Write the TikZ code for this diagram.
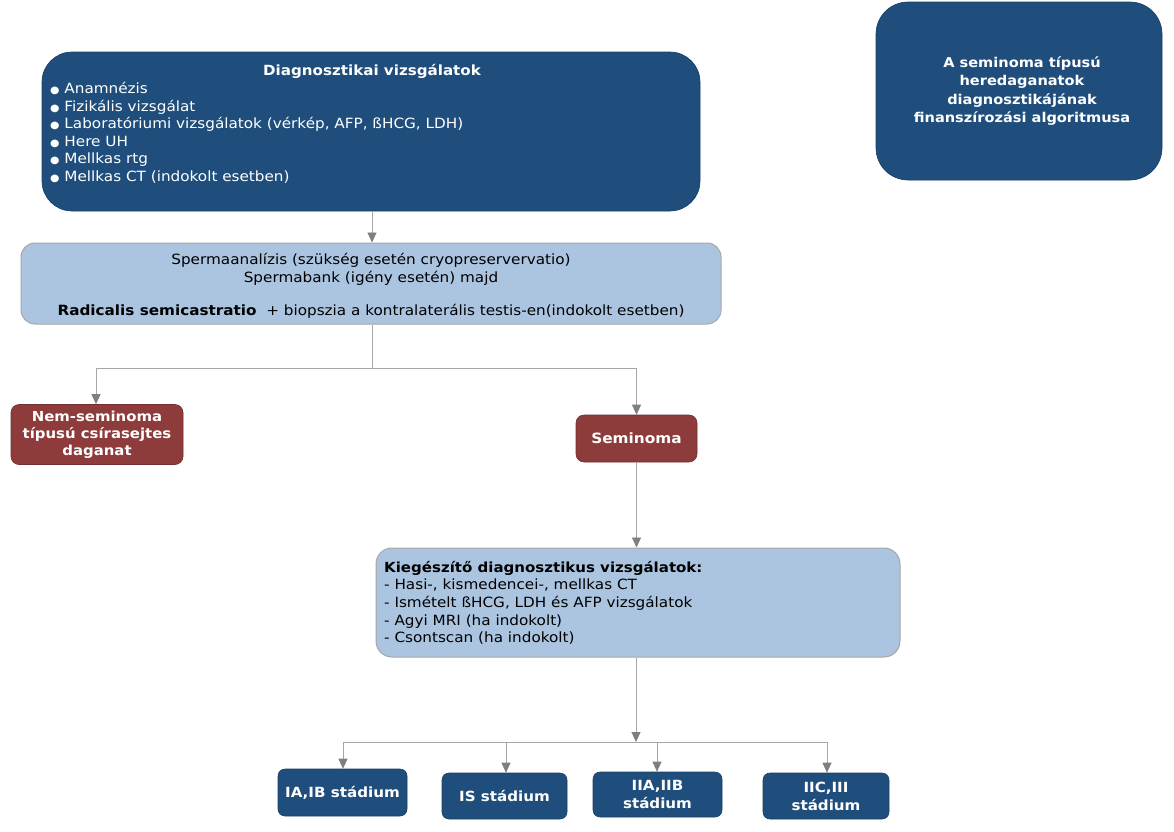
\documentclass[tikz,border=0pt]{standalone}
\usepackage{fontspec}
\setmainfont{DejaVu Sans}[FakeStretch=1.08]
\usetikzlibrary{arrows.meta}
\definecolor{dkblue}{HTML}{1F4E7D}
\definecolor{ltblue}{HTML}{ABC5E1}
\definecolor{redbr}{HTML}{8E3B3B}
\definecolor{lnc}{HTML}{A6A6A6}
\definecolor{arc}{HTML}{7F7F7F}
\tikzset{
  darkbox/.style={fill=dkblue, draw=dkblue!80!black, line width=0.6pt, text=white, font=\bfseries\fontsize{13.5}{18.2}\selectfont, align=center, inner sep=0pt},
  lightbox/.style={fill=ltblue, draw=lnc, line width=1pt, inner sep=0pt},
  redbox/.style={fill=redbr, draw=redbr!80!black, line width=0.6pt, text=white, font=\bfseries\fontsize{13.8}{17.2}\selectfont, align=center, inner sep=0pt, rounded corners=8pt},
  stagebox/.style={darkbox, rounded corners=7pt, font=\bfseries\fontsize{14}{18}\selectfont},
  conn/.style={draw=lnc, line width=0.9pt},
  arr/.style={conn, -{Triangle[length=10pt,width=9pt,fill=arc,color=arc]}},
  txt/.style={font=\fontsize{14.1}{17.6}\selectfont, inner sep=0pt},
}
\begin{document}
\begin{tikzpicture}[x=1pt,y=-1pt]
\useasboundingbox (0,0) rectangle (1174,831);
% title box
\node[darkbox, rounded corners=32pt, minimum width=286pt, minimum height=178pt] (title) at (1019,91) {};
\node[darkbox, fill=none, draw=none] (titlet) at (1022,91) {A seminoma típusú\\heredaganatok\\diagnosztikájának\\finanszírozási algoritmusa};
% diagnostics box
\node[darkbox, rounded corners=30pt, minimum width=658pt, minimum height=159pt] (diag) at (371,131.5) {};
\node[txt, text=white, font=\bfseries\fontsize{14}{16}\selectfont] (diagt) at (372,71) {Diagnosztikai vizsgálatok};
\node[txt, text=white, anchor=north west, align=left] (diagl) at (50,82) {{\fontsize{10}{10}\selectfont ●} Anamnézis\\{\fontsize{10}{10}\selectfont ●} Fizikális vizsgálat\\{\fontsize{10}{10}\selectfont ●} Laboratóriumi vizsgálatok (vérkép, AFP, ßHCG, LDH)\\{\fontsize{10}{10}\selectfont ●} Here UH\\{\fontsize{10}{10}\selectfont ●} Mellkas rtg\\{\fontsize{10}{10}\selectfont ●} Mellkas CT (indokolt esetben)};
% sperma box
\node[lightbox, rounded corners=14pt, minimum width=700pt, minimum height=81pt] (sperma) at (371,283.5) {};
\node[txt, align=center] (spermat) at (371,269.5) {Spermaanalízis (szükség esetén cryopreservervatio)\\Spermabank (igény esetén) majd};
\node[txt] (spermar) at (371,311.5) {\textbf{Radicalis semicastratio}\ \ + biopszia a kontralaterális testis-en(indokolt esetben)};
% red boxes
\node[redbox, minimum width=172pt, minimum height=60pt] (nem) at (97,434.5) {Nem-seminoma\\típusú csírasejtes\\daganat};
\node[redbox, font=\bfseries\fontsize{14.2}{17}\selectfont, minimum width=121pt, minimum height=47pt] (sem) at (636.5,438.5) {Seminoma};
% kieg box
\node[lightbox, rounded corners=16pt, minimum width=524pt, minimum height=109pt] (kieg) at (638,602.5) {};
\node[txt, anchor=north west, align=left] (kiegt) at (384,561) {{\bfseries\fontsize{13.9}{17.6}\selectfont Kiegészítő diagnosztikus vizsgálatok:}\\- Hasi-, kismedencei-, mellkas CT\\- Ismételt ßHCG, LDH és AFP vizsgálatok\\- Agyi MRI (ha indokolt)\\- Csontscan (ha indokolt)};
% stage boxes
\node[stagebox, minimum width=129pt, minimum height=47pt] (s1) at (342.5,792.5) {IA,IB stádium};
\node[stagebox, minimum width=125pt, minimum height=46pt] (s2) at (504.5,796) {IS stádium};
\node[stagebox, minimum width=129pt, minimum height=45pt] (s3) at (657.5,794.5) {IIA,IIB\\stádium};
\node[stagebox, minimum width=126pt, minimum height=46pt] (s4) at (826,796) {IIC,III\\stádium};
% connectors
\coordinate (j1) at (372,368);
\coordinate (j2) at (636,742);
\draw[arr] (diag.south -| 372,0) -- (sperma.north -| 372,0);
\draw[conn] (sperma.south -| j1) -- (j1);
\draw[arr] (j1) -| (nem.north -| 96,0);
\draw[arr] (j1) -| (sem.north);
\draw[arr] (sem.south) -- (kieg.north -| sem.south);
\draw[arr] (kieg.south -| j2) -- (j2);
\draw[arr] (j2) -| (s1.north -| 343,0);
\draw[arr] (j2) -| (s2.north -| 506,0);
\draw[arr] (j2) -| (s3.north -| 657,0);
\draw[arr] (j2) -| (s4.north -| 827,0);
\end{tikzpicture}
\end{document}
